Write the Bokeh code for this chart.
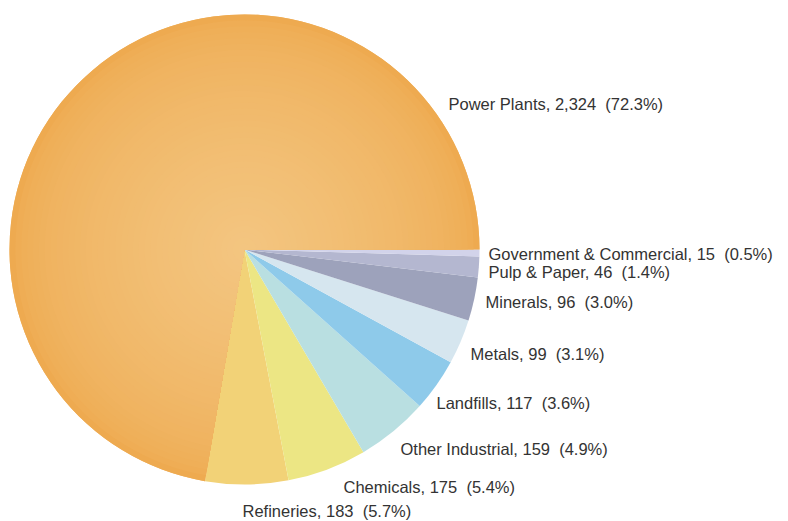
import math
from bokeh.plotting import figure
from bokeh.models import ColumnDataSource, Range1d
from bokeh.core.properties import value
from bokeh.embed import file_html
from bokeh.resources import INLINE

# ---- data ----
categories = ["Power Plants", "Refineries", "Chemicals", "Other Industrial", "Landfills",
              "Metals", "Minerals", "Pulp & Paper", "Government & Commercial"]
counts = [2324, 183, 175, 159, 117, 99, 96, 46, 15]
colors = ["#f0b565", "#f2d277", "#ece684", "#b9dfe1", "#8ecaea",
          "#d6e6ef", "#9da2bb", "#b4b7d0", "#d2d3ea"]

W, H = 788, 521
CX, CY = 244, H - 249  # pie centre (screen px -> data units)
R = 235

total = float(sum(counts))
starts, ends = [], []
a = 0.0
for c in counts:
    starts.append(a)
    a += c / total * 2 * math.pi
    ends.append(a)

p = figure(width=W, height=H, output_backend="svg", toolbar_location=None,
           x_range=Range1d(0, W), y_range=Range1d(0, H), min_border=0)
p.axis.visible = False
p.grid.visible = False
p.outline_line_color = None
p.background_fill_color = "white"

src = ColumnDataSource(dict(x=[CX] * len(counts), y=[CY] * len(counts),
                            start=starts, end=ends, color=colors))
p.wedge(x="x", y="y", radius=R, start_angle="start", end_angle="end",
        fill_color="color", line_color=None, source=src)

# radial shading for the large slice (lighter toward the centre)
def mix(c1, c2, t):
    a1 = [int(c1[i:i + 2], 16) for i in (1, 3, 5)]
    a2 = [int(c2[i:i + 2], 16) for i in (1, 3, 5)]
    return "#%02x%02x%02x" % tuple(round(a1[k] + (a2[k] - a1[k]) * t) for k in range(3))

edge_c, inner_c = "#eeaa50", "#f3c580"
n = 40
for i in range(n):
    r_out = R * (1 - i / n)
    t = (i / (n - 1)) ** 0.6
    p.wedge(x=CX, y=CY, radius=r_out, start_angle=starts[0], end_angle=ends[0],
            fill_color=mix(edge_c, inner_c, t), line_color=None)

# ---- labels ----
label_px = [(448, 103), (242, 510), (343, 486), (400, 448), (436, 402),
            (470, 353), (485, 301), (488, 271), (488, 253)]
texts = [f"{cat}, {cnt:,}\u00a0\u00a0({cnt / total * 100:.1f}%)" for cat, cnt in zip(categories, counts)]
lsrc = ColumnDataSource(dict(x=[q[0] for q in label_px], y=[H - q[1] for q in label_px], t=texts))
p.text(x="x", y="y", text="t", source=lsrc, text_font=value("Liberation Sans"),
       text_font_size="16.5px", text_color="#333333", text_baseline="middle", text_align="left")

open("out.html", "w").write(file_html(p, INLINE))
